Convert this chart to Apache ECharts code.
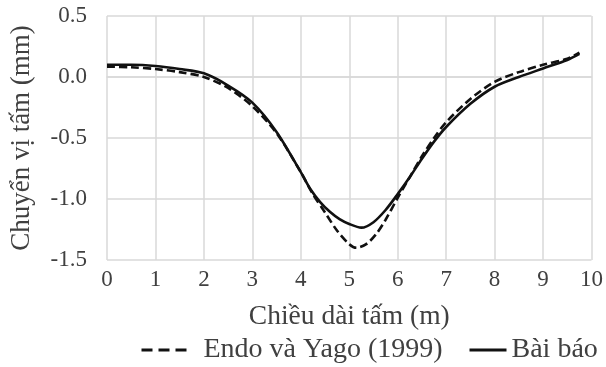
<!DOCTYPE html>
<html>
<head>
<meta charset="utf-8">
<script src="https://cdn.jsdelivr.net/npm/echarts@6/dist/echarts.min.js"></script>
<style>html,body{margin:0;padding:0;background:#fff;}#c{width:606px;height:367px;}</style>
</head>
<body>
<div id="c"></div>
<script>
var seriesNames = ['Endo và Yago (1999)', 'Bài báo'];
var xTitle = 'Chiều dài tấm (m)';
var yTitle = 'Chuyển vị tấm (mm)';

var xEndo = [0, 0.5, 1.0, 1.5, 2.0, 2.5, 3.0, 3.5, 4.0, 4.25, 4.5, 4.75, 5.0, 5.15, 5.35, 5.55, 5.75, 6.0, 6.25, 6.5, 6.75, 7.0, 7.5, 8.0, 8.5, 9.0, 9.5, 9.75];
var yEndo = [0.085, 0.08, 0.065, 0.04, 0.0, -0.09, -0.24, -0.46, -0.78, -0.96, -1.11, -1.26, -1.37, -1.40, -1.37, -1.29, -1.17, -0.99, -0.82, -0.65, -0.50, -0.37, -0.18, -0.04, 0.04, 0.10, 0.15, 0.20];

var xBai = [0, 0.5, 1.0, 1.5, 2.0, 2.5, 3.0, 3.5, 4.0, 4.2, 4.4, 4.6, 4.8, 5.0, 5.25, 5.5, 5.75, 6.0, 6.25, 6.5, 6.75, 7.0, 7.5, 8.0, 8.5, 9.0, 9.5, 9.75];
var yBai = [0.10, 0.10, 0.09, 0.065, 0.03, -0.07, -0.21, -0.45, -0.78, -0.92, -1.025, -1.105, -1.165, -1.205, -1.235, -1.19, -1.09, -0.96, -0.82, -0.67, -0.53, -0.41, -0.22, -0.08, 0.0, 0.07, 0.14, 0.19];

var xTicks = [0, 10, 1];
var yTicks = [-1.5, 0.5, 0.5];

function zip(xs, ys) { return xs.map(function (x, i) { return [x, ys[i]]; }); }

var FONT = "'Liberation Serif', 'DejaVu Serif', serif";
var TXT = '#404040';

var chart = echarts.init(document.getElementById('c'), null, {renderer: 'canvas'});
chart.setOption({
  backgroundColor: '#ffffff',
  animation: false,
  grid: {left: 104, right: 13, top: 16, bottom: 107},
  legend: [
    {
      left: 135, top: 331,
      itemWidth: 48, itemHeight: 12,
      itemStyle: {opacity: 0},
      lineStyle: {width: 3, type: [11, 6]},
      textStyle: {fontFamily: FONT, fontSize: 28, color: TXT, padding: [0, 0, 0, 9]},
      data: [seriesNames[0]]
    },
    {
      left: 463, top: 331,
      itemWidth: 37, itemHeight: 12,
      itemStyle: {opacity: 0},
      lineStyle: {width: 3},
      textStyle: {fontFamily: FONT, fontSize: 28, color: TXT},
      data: [seriesNames[1]]
    }
  ],
  xAxis: {
    type: 'value', min: xTicks[0], max: xTicks[1], interval: xTicks[2],
    name: xTitle, nameLocation: 'middle', nameGap: 43,
    nameTextStyle: {fontFamily: FONT, fontSize: 27.5, color: TXT},
    axisLine: {show: true, lineStyle: {color: '#d9d9d9', width: 1.5}},
    axisTick: {show: false},
    axisLabel: {fontFamily: FONT, fontSize: 23, color: TXT, margin: 8},
    splitLine: {show: true, lineStyle: {color: '#d9d9d9', width: 1.5}}
  },
  yAxis: {
    type: 'value', min: yTicks[0], max: yTicks[1], interval: yTicks[2],
    name: yTitle, nameLocation: 'middle', nameGap: 72,
    nameTextStyle: {fontFamily: FONT, fontSize: 27, color: TXT},
    axisLine: {show: false},
    axisTick: {show: false},
    axisLabel: {fontFamily: FONT, fontSize: 23, color: TXT, margin: 20,
      formatter: function (v) { return v.toFixed(1); }},
    splitLine: {show: true, lineStyle: {color: '#d9d9d9', width: 1.5}}
  },
  series: [
    {
      name: seriesNames[0], type: 'line', data: zip(xEndo, yEndo),
      smooth: 0.3, symbol: 'none',
      lineStyle: {color: '#111111', width: 2.6, type: [8, 4]},
      itemStyle: {color: '#111111'}
    },
    {
      name: seriesNames[1], type: 'line', data: zip(xBai, yBai),
      smooth: 0.3, symbol: 'none',
      lineStyle: {color: '#111111', width: 2.6, type: 'solid'},
      itemStyle: {color: '#111111'}
    }
  ]
});
</script>
</body>
</html>
